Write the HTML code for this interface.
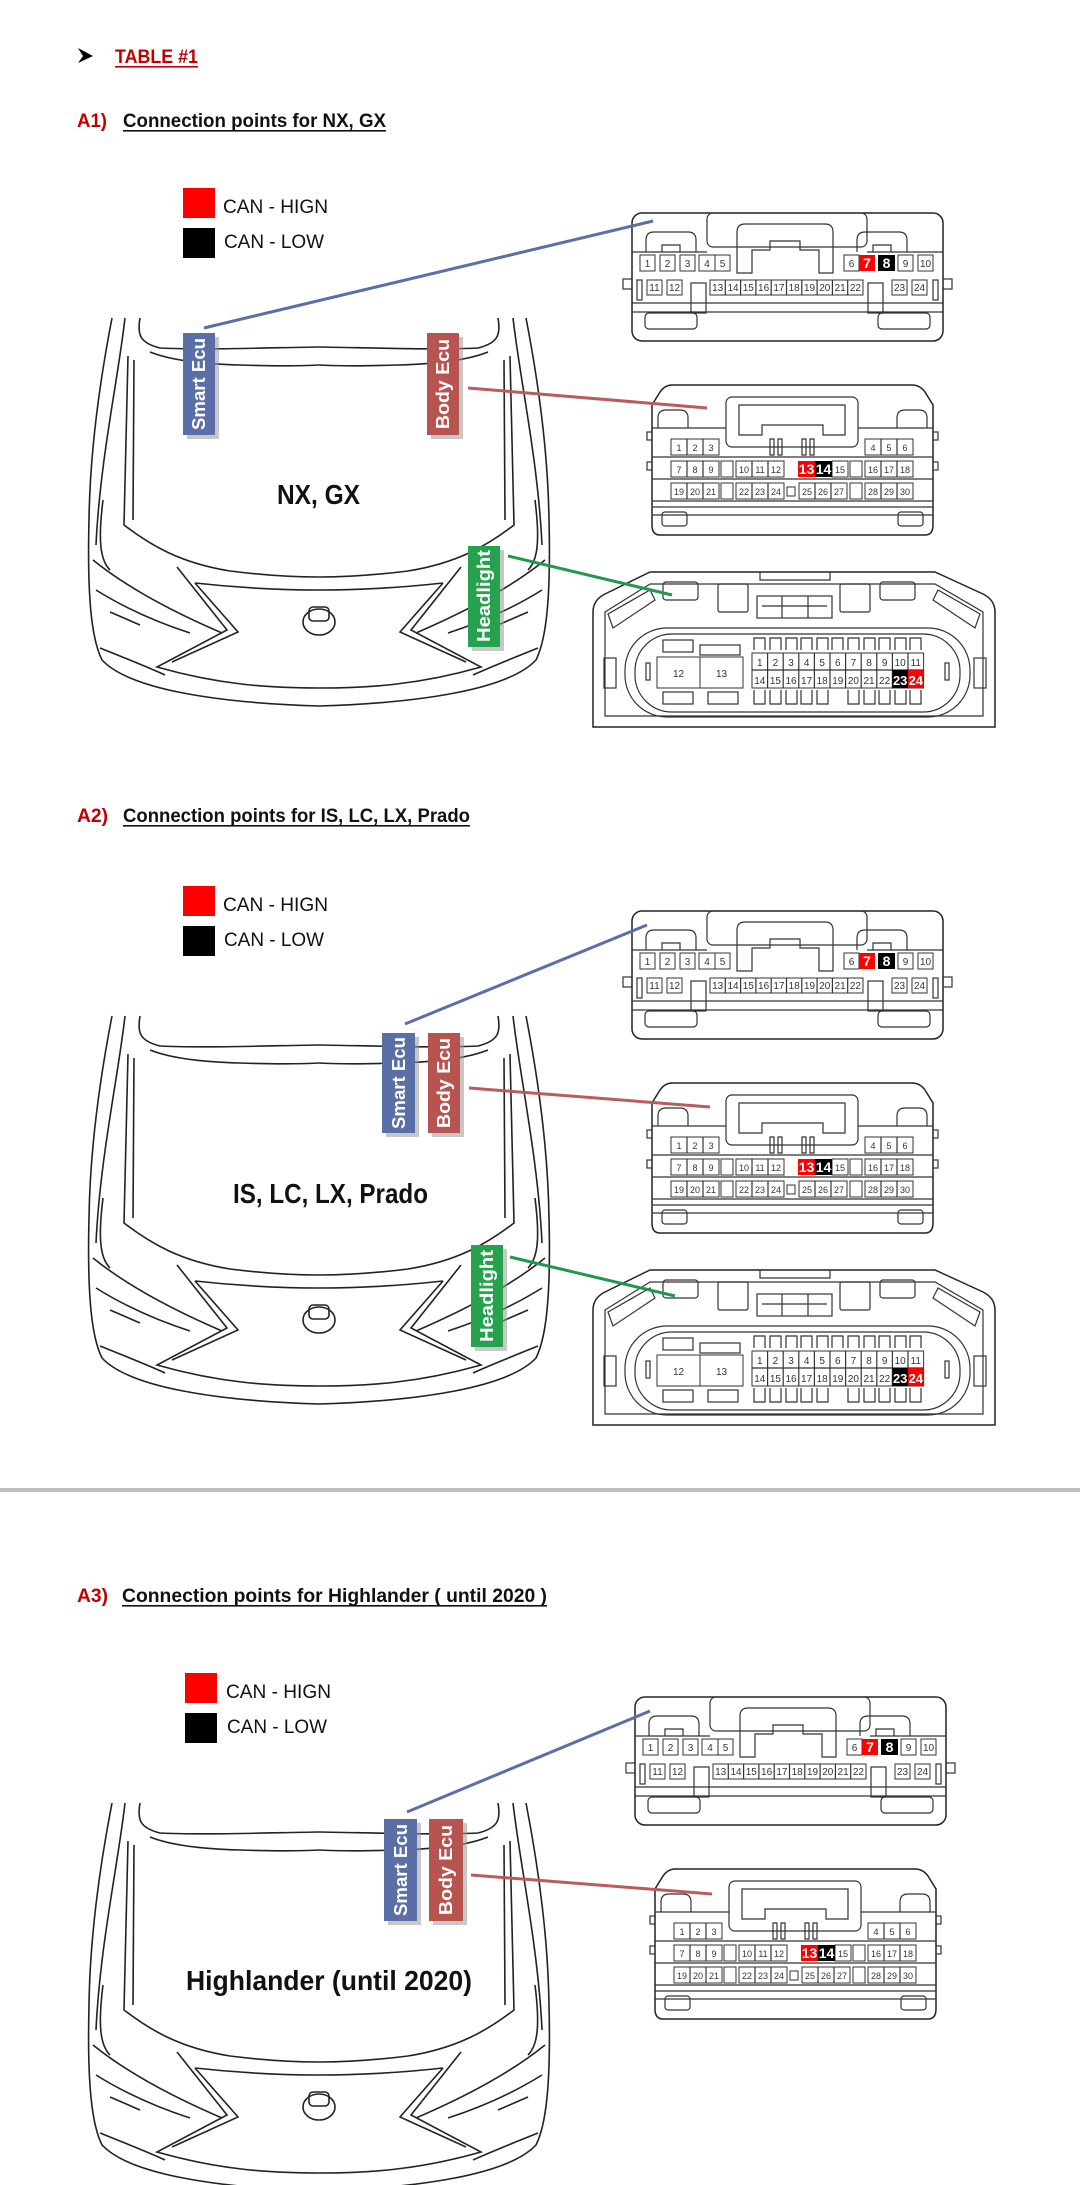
<!DOCTYPE html>
<html><head><meta charset="utf-8"><style>
html,body{margin:0;padding:0;background:#fff;}
svg{display:block;font-family:"Liberation Sans",sans-serif;}
.o{fill:none;stroke:#222;stroke-width:1.5;}
.t{fill:none;stroke:#333;stroke-width:1.2;}
.p{fill:#fff;stroke:#333;stroke-width:1;}
.n{font-size:10px;fill:#333;text-anchor:middle;}
.nb{font-size:9px;fill:#333;text-anchor:middle;}
.hb{font-weight:bold;fill:#fff;text-anchor:middle;}
.lab{font-weight:bold;font-size:18px;fill:#fff;text-anchor:middle;}
.head{font-weight:bold;font-size:19px;}
.leg{font-size:19px;fill:#111;}
.big{font-weight:bold;font-size:28px;fill:#111;}
</style></head><body>
<svg width="1080" height="2185" viewBox="0 0 1080 2185" xmlns="http://www.w3.org/2000/svg">
<defs>
<g id="carhalf" fill="none" stroke="#222" stroke-width="1.6">
<path d="M112,318 C100,380 90,450 89,520 C87,600 92,640 102,660 C130,690 220,703 319,706"/>
<path d="M125,318 C118,380 100,460 96,545"/>
<path d="M140,318 C137,335 140,343 160,348 C200,350 260,348 319,347"/>
<path d="M150,352 C170,360 200,364 240,365 C270,366 300,366 319,365"/>
<path d="M128,356 L124,525 C150,545 180,563 230,571 C270,576 300,577 319,577"/>
<path d="M134,360 L133,520"/>
<path d="M177,567 L227,630 L157,667 C220,685 270,688 319,688"/>
<path d="M195,583 C240,588 280,590 319,590"/>
<path d="M195,583 L238,632 L172,662"/>
<path d="M93,560 C130,590 180,615 222,633"/>
<path d="M96,590 C120,605 150,620 190,633"/>
<path d="M110,612 L140,625"/>
<path d="M100,648 C130,660 150,668 165,675"/>
<path d="M103,500 C98,540 100,560 110,570"/>
</g>
<g id="car" fill="none" stroke="#222" stroke-width="1.6">
<use href="#carhalf"/>
<use href="#carhalf" transform="translate(638,0) scale(-1,1)"/>
<ellipse cx="319" cy="622" rx="16" ry="13"/>
<rect x="309" y="607" width="20" height="14" rx="4"/>
</g>
<g id="smartS">
<rect class="o" x="632" y="213" width="311" height="128" rx="10"/>
<rect class="t" x="707" y="213" width="160" height="34" rx="6"/>
<path class="t" d="M752,273 L737,273 L737,232 Q737,224 745,224 L825,224 Q833,224 833,232 L833,273 L819,273 L819,250 L800,250 L800,241 L770,241 L770,250 L752,250 Z"/>
<path class="t" d="M632,252 L707,252 M867,252 L943,252 M646,252 L646,240 Q646,232 654,232 L688,232 Q696,232 696,240 L696,252 M857,252 L857,240 Q857,232 865,232 L899,232 Q907,232 907,240 L907,252"/>
<path class="t" d="M662,252 L662,245 L680,245 L680,252 M873,252 L873,245 L891,245 L891,252"/>
<rect class="t" x="623" y="279" width="9" height="10"/><rect class="t" x="943" y="279" width="9" height="10"/>
<rect class="t" x="637" y="280" width="5" height="20"/><rect class="t" x="933" y="280" width="5" height="20"/>
<path class="t" d="M632,303 L943,303 M632,312 L943,312"/>
<rect class="t" x="691" y="283" width="15" height="30"/><rect class="t" x="868" y="283" width="15" height="30"/>
<rect class="t" x="645" y="313" width="52" height="16" rx="4"/><rect class="t" x="878" y="313" width="52" height="16" rx="4"/>
<g class="p">
<rect x="640" y="255" width="15" height="16"/><rect x="660" y="255" width="15" height="16"/><rect x="680" y="255" width="15" height="16"/><rect x="699" y="255" width="16" height="16"/><rect x="715" y="255" width="15" height="16"/>
<rect x="844" y="255" width="15" height="16"/><rect x="898" y="255" width="15" height="16"/><rect x="918" y="255" width="15" height="16"/>
<rect x="647" y="280" width="15" height="15"/><rect x="667" y="280" width="15" height="15"/>
<rect x="710" y="280" width="153" height="15"/>
<rect x="892" y="280" width="15" height="15"/><rect x="912" y="280" width="15" height="15"/>
</g>
<path class="t" d="M725.3,280v15M740.6,280v15M755.9,280v15M771.2,280v15M786.5,280v15M801.8,280v15M817.1,280v15M832.4,280v15M847.7,280v15"/>
<rect x="859" y="255" width="16" height="16" fill="#f00"/>
<rect x="878" y="255" width="17" height="16" fill="#000"/>
</g>
<g id="smartT">
<text class="n" x="647.5" y="267">1</text><text class="n" x="667.5" y="267">2</text><text class="n" x="687.5" y="267">3</text><text class="n" x="707" y="267">4</text><text class="n" x="722.5" y="267">5</text>
<text class="n" x="851.5" y="267">6</text><text class="hb" x="867" y="268" font-size="14">7</text><text class="hb" x="886.5" y="268" font-size="14">8</text><text class="n" x="905.5" y="267">9</text><text class="n" x="925.5" y="267">10</text>
<text class="n" x="654.5" y="291">11</text><text class="n" x="674.5" y="291">12</text>
<text class="n" x="717.7" y="291">13</text><text class="n" x="733" y="291">14</text><text class="n" x="748.3" y="291">15</text><text class="n" x="763.6" y="291">16</text><text class="n" x="778.9" y="291">17</text><text class="n" x="794.2" y="291">18</text><text class="n" x="809.5" y="291">19</text><text class="n" x="824.8" y="291">20</text><text class="n" x="840.1" y="291">21</text><text class="n" x="855.4" y="291">22</text>
<text class="n" x="899.5" y="291">23</text><text class="n" x="919.5" y="291">24</text>
</g>
<g id="bodyS">
<path class="o" d="M660,392 Q665,385 672,385 L912,385 Q920,385 925,392 L933,405 L933,525 Q933,535 925,535 L660,535 Q652,535 652,525 L652,405 Z"/>
<rect class="t" x="726" y="397" width="132" height="50" rx="6"/>
<path class="t" d="M739,435 L739,405 L845,405 L845,435 L823,435 L823,425 L762,425 L762,435 Z"/>
<path class="t" d="M652,428 L726,428 M858,428 L933,428 M658,428 L658,418 Q658,410 666,410 L680,410 Q688,410 688,418 L688,428 M897,428 L897,418 Q897,410 905,410 L919,410 Q927,410 927,418 L927,428"/>
<path class="t" d="M770,439 v16 h4 v-16 z M778,439 v16 h4 v-16 z M802,439 v16 h4 v-16 z M810,439 v16 h4 v-16 z"/>
<path class="t" d="M652,457 L933,457 M652,479 L933,479 M652,501 L933,501 M652,507 L933,507 M652,515 L933,515"/>
<rect class="t" x="647" y="432" width="5" height="8"/><rect class="t" x="933" y="432" width="5" height="8"/>
<rect class="t" x="647" y="462" width="5" height="8"/><rect class="t" x="933" y="462" width="5" height="8"/>
<rect class="t" x="662" y="512" width="25" height="14" rx="3"/><rect class="t" x="898" y="512" width="25" height="14" rx="3"/>
<g class="p">
<rect x="671" y="439" width="48" height="16"/><rect x="865" y="439" width="48" height="16"/>
<rect x="671" y="461" width="48" height="16"/><rect x="721" y="461" width="12" height="16"/><rect x="736" y="461" width="48" height="16"/><rect x="832" y="461" width="16" height="16"/><rect x="850" y="461" width="12" height="16"/><rect x="865" y="461" width="48" height="16"/>
<rect x="671" y="483" width="48" height="16"/><rect x="721" y="483" width="12" height="16"/><rect x="736" y="483" width="48" height="16"/><rect x="787" y="487" width="8" height="9"/><rect x="799" y="483" width="48" height="16"/><rect x="850" y="483" width="12" height="16"/><rect x="865" y="483" width="48" height="16"/>
</g>
<path class="t" d="M687,439v16M703,439v16M881,439v16M897,439v16M687,461v16M703,461v16M752,461v16M768,461v16M881,461v16M897,461v16M687,483v16M703,483v16M752,483v16M768,483v16M815,483v16M831,483v16M881,483v16M897,483v16"/>
<rect x="798" y="461" width="17" height="16" fill="#f00"/>
<rect x="815" y="461" width="17" height="16" fill="#000"/>
</g>
<g id="bodyT">
<text class="nb" x="679" y="451">1</text><text class="nb" x="695" y="451">2</text><text class="nb" x="711" y="451">3</text><text class="nb" x="873" y="451">4</text><text class="nb" x="889" y="451">5</text><text class="nb" x="905" y="451">6</text>
<text class="nb" x="679" y="473">7</text><text class="nb" x="695" y="473">8</text><text class="nb" x="711" y="473">9</text><text class="nb" x="744" y="473">10</text><text class="nb" x="760" y="473">11</text><text class="nb" x="776" y="473">12</text>
<text class="hb" x="806.5" y="474" font-size="14">13</text><text class="hb" x="823.5" y="474" font-size="14">14</text><text class="nb" x="840" y="473">15</text>
<text class="nb" x="873" y="473">16</text><text class="nb" x="889" y="473">17</text><text class="nb" x="905" y="473">18</text>
<text class="nb" x="679" y="495">19</text><text class="nb" x="695" y="495">20</text><text class="nb" x="711" y="495">21</text><text class="nb" x="744" y="495">22</text><text class="nb" x="760" y="495">23</text><text class="nb" x="776" y="495">24</text>
<text class="nb" x="807" y="495">25</text><text class="nb" x="823" y="495">26</text><text class="nb" x="839" y="495">27</text><text class="nb" x="873" y="495">28</text><text class="nb" x="889" y="495">29</text><text class="nb" x="905" y="495">30</text>
</g>
<g id="headS">
<path class="o" d="M593,612 Q593,600 605,594 L650,572 L935,572 L983,594 Q995,600 995,612 L995,727 L593,727 Z"/>
<path class="t" d="M605,612 L650,584 L935,584 L983,612 L983,716 L605,716 Z"/>
<path class="t" d="M760,572 L760,580 L830,580 L830,572"/>
<rect class="t" x="625" y="628" width="345" height="89" rx="42"/>
<rect class="t" x="635" y="634" width="325" height="78" rx="37"/>
<rect class="t" x="663" y="582" width="35" height="18" rx="3"/><rect class="t" x="718" y="584" width="30" height="28" rx="2"/><rect class="t" x="840" y="584" width="30" height="28" rx="2"/><rect class="t" x="880" y="582" width="35" height="18" rx="3"/>
<rect class="t" x="757" y="596" width="75" height="22"/><path class="t" d="M782,596v22M808,596v22M762,606h65"/>
<path class="t" d="M608,614 L650,590 L655,600 L613,628 Z M980,614 L938,590 L933,600 L975,628 Z"/>
<rect class="t" x="604" y="658" width="12" height="30"/><rect class="t" x="974" y="658" width="12" height="30"/>
<rect class="t" x="646" y="663" width="4" height="17"/><rect class="t" x="945" y="663" width="4" height="17"/>
<rect class="t" x="663" y="640" width="30" height="12"/><rect class="t" x="700" y="645" width="40" height="10"/>
<rect class="t" x="663" y="692" width="30" height="12"/><rect class="t" x="708" y="692" width="30" height="12"/>
<path class="t" d="M754,650v-12h11v12M770,650v-12h11v12M786,650v-12h11v12M801,650v-12h11v12M817,650v-12h11v12M832,650v-12h11v12M848,650v-12h11v12M864,650v-12h11v12M879,650v-12h11v12M895,650v-12h11v12M910,650v-12h11v12"/>
<path class="t" d="M754,690v14h11v-14M770,690v14h11v-14M786,690v14h11v-14M801,690v14h11v-14M817,690v14h11v-14M848,690v14h11v-14M864,690v14h11v-14M879,690v14h11v-14M895,690v14h11v-14M910,690v14h11v-14"/>
<g class="p">
<rect x="657" y="657" width="43" height="31"/><rect x="700" y="657" width="43" height="31"/>
<rect x="752" y="653" width="171.6" height="35"/>
</g>
<path class="t" d="M752,670h171.6M767.6,653v35M783.2,653v35M798.8,653v35M814.4,653v35M830,653v35M845.6,653v35M861.2,653v35M876.8,653v35M892.4,653v35M908,653v35"/>
<rect x="892.4" y="670" width="15.6" height="18" fill="#000"/>
<rect x="908" y="670" width="15.6" height="18" fill="#f00"/>
</g>
<g id="headT">
<text class="n" x="678.5" y="677" font-size="11">12</text><text class="n" x="721.5" y="677" font-size="11">13</text>
<text class="n" x="759.8" y="666">1</text><text class="n" x="775.4" y="666">2</text><text class="n" x="791" y="666">3</text><text class="n" x="806.6" y="666">4</text><text class="n" x="822.2" y="666">5</text><text class="n" x="837.8" y="666">6</text><text class="n" x="853.4" y="666">7</text><text class="n" x="869" y="666">8</text><text class="n" x="884.6" y="666">9</text><text class="n" x="900.2" y="666">10</text><text class="n" x="915.8" y="666">11</text>
<text class="n" x="759.8" y="684">14</text><text class="n" x="775.4" y="684">15</text><text class="n" x="791" y="684">16</text><text class="n" x="806.6" y="684">17</text><text class="n" x="822.2" y="684">18</text><text class="n" x="837.8" y="684">19</text><text class="n" x="853.4" y="684">20</text><text class="n" x="869" y="684">21</text><text class="n" x="884.6" y="684">22</text><text class="hb" x="900.2" y="685" font-size="13">23</text><text class="hb" x="915.8" y="685" font-size="13">24</text>
</g>
</defs>

<!-- header -->
<path d="M78,48 L93,56 L78,63 L83,56 Z" fill="#000"/>
<text class="head" x="115" y="63" fill="#c00000" textLength="83" lengthAdjust="spacingAndGlyphs">TABLE #1</text>
<rect x="115" y="66" width="83" height="1.6" fill="#c00000"/>

<!-- SECTION 1 -->
<text class="head" x="77" y="127" fill="#c00000" textLength="30" lengthAdjust="spacingAndGlyphs">A1)</text>
<text class="head" x="123" y="127" fill="#111" textLength="263" lengthAdjust="spacingAndGlyphs">Connection points for NX, GX</text>
<rect x="123" y="130" width="263" height="1.6" fill="#111"/>
<rect x="183" y="188" width="32" height="30" fill="#f00"/>
<text class="leg" x="223" y="213" textLength="105" lengthAdjust="spacingAndGlyphs">CAN - HIGN</text>
<rect x="183" y="228" width="32" height="30" fill="#000"/>
<text class="leg" x="224" y="248" textLength="100" lengthAdjust="spacingAndGlyphs">CAN - LOW</text>
<use href="#car"/>
<use href="#smartS"/><use href="#smartT"/>
<use href="#bodyS"/><use href="#bodyT"/>
<use href="#headS"/><use href="#headT"/>
<text class="big" x="277" y="504" textLength="83" lengthAdjust="spacingAndGlyphs">NX, GX</text>
<line x1="204" y1="328" x2="653" y2="221" stroke="#5b6ea8" stroke-width="3"/>
<line x1="468" y1="388" x2="707" y2="408" stroke="#b85c5c" stroke-width="3"/>
<line x1="508" y1="556" x2="672" y2="595" stroke="#22994a" stroke-width="3"/>
<rect x="187" y="337" width="32" height="102" fill="#999" opacity="0.55"/>
<rect x="183" y="333" width="32" height="102" fill="#5a6fa6"/>
<text class="lab" transform="translate(205,384) rotate(-90)" textLength="92" lengthAdjust="spacingAndGlyphs">Smart Ecu</text>
<rect x="431" y="337" width="32" height="102" fill="#999" opacity="0.55"/>
<rect x="427" y="333" width="32" height="102" fill="#b85450"/>
<text class="lab" transform="translate(449,384) rotate(-90)" textLength="90" lengthAdjust="spacingAndGlyphs">Body Ecu</text>
<rect x="472" y="550" width="32" height="101" fill="#999" opacity="0.55"/>
<rect x="468" y="546" width="32" height="101" fill="#26a24f"/>
<text class="lab" transform="translate(490,596) rotate(-90)" textLength="92" lengthAdjust="spacingAndGlyphs">Headlight</text>

<!-- SECTION 2 -->
<text class="head" x="77" y="822" fill="#c00000" textLength="31" lengthAdjust="spacingAndGlyphs">A2)</text>
<text class="head" x="123" y="822" fill="#111" textLength="347" lengthAdjust="spacingAndGlyphs">Connection points for IS, LC, LX, Prado</text>
<rect x="123" y="825" width="347" height="1.6" fill="#111"/>
<g transform="translate(0,698)">
<rect x="183" y="188" width="32" height="30" fill="#f00"/>
<text class="leg" x="223" y="213" textLength="105" lengthAdjust="spacingAndGlyphs">CAN - HIGN</text>
<rect x="183" y="228" width="32" height="30" fill="#000"/>
<text class="leg" x="224" y="248" textLength="100" lengthAdjust="spacingAndGlyphs">CAN - LOW</text>
<use href="#car"/>
<use href="#smartS"/><use href="#smartT"/>
<use href="#bodyS"/><use href="#bodyT"/>
<use href="#headS"/><use href="#headT"/>
</g>
<text class="big" x="233" y="1203" textLength="195" lengthAdjust="spacingAndGlyphs">IS, LC, LX, Prado</text>
<line x1="405" y1="1024" x2="647" y2="925" stroke="#5b6ea8" stroke-width="3"/>
<line x1="469" y1="1088" x2="710" y2="1107" stroke="#b85c5c" stroke-width="3"/>
<line x1="510" y1="1257" x2="675" y2="1296" stroke="#22994a" stroke-width="3"/>
<rect x="386" y="1037" width="33" height="100" fill="#999" opacity="0.55"/>
<rect x="382" y="1033" width="33" height="100" fill="#5a6fa6"/>
<text class="lab" transform="translate(405,1083) rotate(-90)" textLength="92" lengthAdjust="spacingAndGlyphs">Smart Ecu</text>
<rect x="432" y="1037" width="32" height="100" fill="#999" opacity="0.55"/>
<rect x="428" y="1033" width="32" height="100" fill="#b85450"/>
<text class="lab" transform="translate(450,1083) rotate(-90)" textLength="90" lengthAdjust="spacingAndGlyphs">Body Ecu</text>
<rect x="475" y="1249" width="32" height="102" fill="#999" opacity="0.55"/>
<rect x="471" y="1245" width="32" height="102" fill="#26a24f"/>
<text class="lab" transform="translate(493,1296) rotate(-90)" textLength="92" lengthAdjust="spacingAndGlyphs">Headlight</text>

<!-- separator -->
<rect x="0" y="1488" width="1080" height="4" fill="#c0c0c0"/>

<!-- SECTION 3 -->
<text class="head" x="77" y="1602" fill="#c00000" textLength="31" lengthAdjust="spacingAndGlyphs">A3)</text>
<text class="head" x="122" y="1602" fill="#111" textLength="425" lengthAdjust="spacingAndGlyphs">Connection points for  Highlander ( until 2020 )</text>
<rect x="122" y="1605" width="425" height="1.6" fill="#111"/>
<g transform="translate(0,1485)">
<rect x="185" y="188" width="32" height="30" fill="#f00"/>
<text class="leg" x="226" y="213" textLength="105" lengthAdjust="spacingAndGlyphs">CAN - HIGN</text>
<rect x="185" y="228" width="32" height="30" fill="#000"/>
<text class="leg" x="227" y="248" textLength="100" lengthAdjust="spacingAndGlyphs">CAN - LOW</text>
<use href="#car"/>
</g>
<g transform="translate(3,1484)">
<use href="#smartS"/><use href="#smartT"/>
<use href="#bodyS"/><use href="#bodyT"/>
</g>
<text class="big" x="186" y="1990" textLength="286" lengthAdjust="spacingAndGlyphs">Highlander (until 2020)</text>
<line x1="407" y1="1812" x2="650" y2="1711" stroke="#5b6ea8" stroke-width="3"/>
<line x1="471" y1="1875" x2="712" y2="1894" stroke="#b85c5c" stroke-width="3"/>
<rect x="388" y="1823" width="33" height="102" fill="#999" opacity="0.55"/>
<rect x="384" y="1819" width="33" height="102" fill="#5a6fa6"/>
<text class="lab" transform="translate(407,1870) rotate(-90)" textLength="92" lengthAdjust="spacingAndGlyphs">Smart Ecu</text>
<rect x="433" y="1823" width="34" height="102" fill="#999" opacity="0.55"/>
<rect x="429" y="1819" width="34" height="102" fill="#b85450"/>
<text class="lab" transform="translate(452,1870) rotate(-90)" textLength="90" lengthAdjust="spacingAndGlyphs">Body Ecu</text>
</svg>
</body></html>
